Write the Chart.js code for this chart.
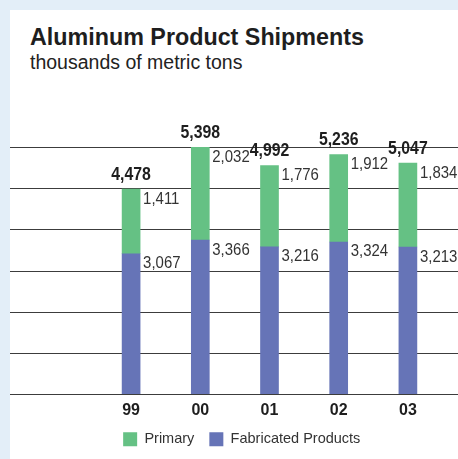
<!DOCTYPE html>
<html>
<head>
<meta charset="utf-8">
<script src="https://cdn.jsdelivr.net/npm/chart.js@4/dist/chart.umd.min.js"></script>
<style>
  html, body { margin: 0; padding: 0; }
  body { width: 458px; height: 459px; background: #e3eef8; position: relative; overflow: hidden; }
  #panel { position: absolute; left: 10px; top: 10px; right: 0; bottom: 0; background: #fff; }
  #title { position: absolute; left: 30px; top: 24px; font: bold 23.3px "Liberation Sans", Arial, sans-serif; color: #1e1e1e; white-space: nowrap; }
  #subtitle { position: absolute; left: 30px; top: 51px; font: 19.5px "Liberation Sans", Arial, sans-serif; color: #222; white-space: nowrap; }
  #chart { position: absolute; left: 0; top: 0; }
</style>
</head>
<body>
<div id="panel"></div>
<div id="title">Aluminum Product Shipments</div>
<div id="subtitle">thousands of metric tons</div>
<canvas id="chart" width="458" height="459"></canvas>
<script>
// data (thousands of metric tons)
const years = ['99', '00', '01', '02', '03'];
const primary = [1411, 2032, 1776, 1912, 1834];
const fabricated = [3067, 3366, 3216, 3324, 3213];

const yMax = 5400;
const yStep = 900;

const sans = '"Liberation Sans", Arial, sans-serif';
const fmt = v => v.toLocaleString('en-US');

// horizontal rules that run across the whole white panel
const gridPlugin = {
    id: 'panelGrid',
    beforeDatasetsDraw(chart) {
        const ctx = chart.ctx;
        const y = chart.scales.y;
        ctx.save();
        ctx.strokeStyle = '#3c3c3c';
        ctx.lineWidth = 1;
        for (let v = 0; v <= yMax; v += yStep) {
            const py = Math.round(y.getPixelForValue(v)) + 0.5;
            ctx.beginPath();
            ctx.moveTo(10, py);
            ctx.lineTo(chart.width, py);
            ctx.stroke();
        }
        ctx.restore();
    }
};

// condensed text: squeeze the font horizontally like the original face
function squeezed(ctx, text, x, y, align) {
    const sx = 0.88;
    const w = ctx.measureText(text).width * sx;
    let left = x;
    if (align === 'center') left = x - w / 2;
    ctx.save();
    ctx.translate(left, y);
    ctx.scale(sx, 1);
    ctx.textAlign = 'left';
    ctx.fillText(text, 0, 0);
    ctx.restore();
}

// value labels: segment values to the right, total in bold above
const labelPlugin = {
    id: 'barLabels',
    afterDatasetsDraw(chart) {
        const ctx = chart.ctx;
        const fabBars = chart.getDatasetMeta(0).data;
        const primBars = chart.getDatasetMeta(1).data;
        ctx.save();
        ctx.textBaseline = 'alphabetic';
        years.forEach((yr, i) => {
            const fb = fabBars[i];
            const pb = primBars[i];
            ctx.font = '17px ' + sans;
            ctx.fillStyle = '#333';
            squeezed(ctx, fmt(fabricated[i]), fb.x + fb.width / 2 + 3, fb.y + 14.5, 'left');
            squeezed(ctx, fmt(primary[i]), pb.x + pb.width / 2 + 3, pb.y + 14.5, 'left');
            ctx.font = 'bold 18px ' + sans;
            ctx.fillStyle = '#1e1e1e';
            squeezed(ctx, fmt(primary[i] + fabricated[i]), pb.x, pb.y - 9.5, 'center');
        });
        ctx.restore();
    }
};

new Chart(document.getElementById('chart'), {
    type: 'bar',
    data: {
        labels: years,
        datasets: [
            {
                label: 'Fabricated Products',
                data: fabricated,
                backgroundColor: '#6674b7',
                barThickness: 18
            },
            {
                label: 'Primary',
                data: primary,
                backgroundColor: '#65c184',
                barThickness: 18
            }
        ]
    },
    options: {
        responsive: false,
        animation: false,
        layout: {padding: {left: 25.5, right: 0, top: 147, bottom: 2.5}},
        scales: {
            x: {
                stacked: true,
                grid: {display: false, drawTicks: false},
                border: {display: false},
                ticks: {
                    padding: 7,
                    color: '#1e1e1e',
                    font: {family: sans, size: 16, weight: 'bold'}
                },
                afterFit(scale) { scale.height = 23; }
            },
            y: {
                stacked: true,
                min: 0,
                max: yMax,
                grid: {display: false, drawTicks: false},
                border: {display: false},
                ticks: {display: false, stepSize: yStep},
                afterFit(scale) { scale.width = 71; }
            },
            yRight: {
                position: 'right',
                grid: {display: false, drawTicks: false},
                border: {display: false},
                ticks: {display: false},
                afterFit(scale) { scale.width = 15.5; }
            }
        },
        plugins: {
            legend: {
                position: 'bottom',
                reverse: true,
                labels: {
                    boxWidth: 14,
                    boxHeight: 14,
                    padding: 15,
                    color: '#333',
                    font: {family: sans, size: 14.5}
                }
            },
            tooltip: {enabled: false}
        }
    },
    plugins: [gridPlugin, labelPlugin]
});
</script>
</body>
</html>
